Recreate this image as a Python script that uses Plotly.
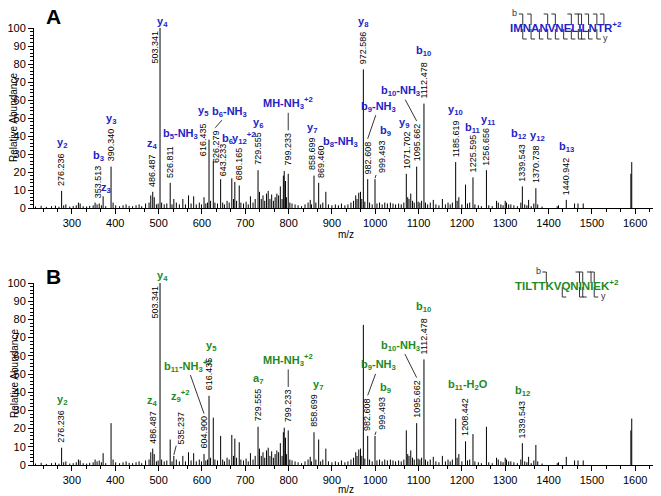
import plotly.graph_objects as go

# ---------------- data ----------------
peak_mz = [
    216, 229, 241, 253, 262, 270, 276.236, 281, 286, 295, 303, 310, 315, 319, 326, 334, 341, 349,
    353.513, 358, 363, 368, 372, 378, 390.340, 395, 401, 410, 418, 425, 432, 440, 448, 455, 461,
    470, 478, 482, 486.487, 490, 495, 499, 503.341, 507, 513, 519, 526.811, 531, 535.237, 541, 548,
    556, 562, 569, 575, 581, 587, 594, 599, 604.900, 609, 613, 616.435, 620, 626.279, 630, 636,
    643.233, 648, 652, 658, 663, 669, 673, 676, 680, 686.165, 690, 696, 702, 707, 712, 718, 723,
    729.555, 733, 737, 741, 745, 749, 753, 757, 761, 765, 769, 773, 777, 781, 785, 788, 790, 793,
    795, 799.233, 803, 808, 815, 822, 830, 838, 845, 850, 853, 858.699, 863, 869.460, 874, 879, 886,
    892, 900, 908, 915, 922, 930, 937, 944, 950, 955, 958, 962, 966, 969, 972.586, 976, 982.608,
    987, 993, 999.493, 1004, 1010, 1016, 1022, 1028, 1035, 1041, 1047, 1054, 1060, 1066, 1071.702,
    1075, 1078, 1082, 1086, 1090, 1095.662, 1099, 1103, 1107, 1112.478, 1116, 1121, 1127, 1134,
    1140, 1147, 1155, 1162, 1168, 1173, 1178, 1185.619, 1189, 1193, 1200, 1208.442, 1213, 1218,
    1225.595, 1230, 1238, 1245, 1256.656, 1262, 1270, 1280, 1284, 1290, 1295, 1300, 1303, 1308,
    1313, 1320, 1328, 1336, 1339.543, 1345, 1350, 1354, 1360, 1366, 1370.738, 1375, 1385, 1420,
    1423, 1440.942, 1460, 1468, 1480, 1590, 1592,
]
peak_int = [
    0.8, 1.2, 0.6, 1.0, 1.3, 0.7, 9.5, 1.5, 2.0, 0.8, 1.0, 1.5, 3.0, 2.5, 1.0, 0.8, 1.2, 1.5,
    3.0, 2.0, 2.5, 1.5, 6.5, 1.0, 23, 3.0, 1.5, 1.0, 1.5, 2.0, 1.2, 1.0, 1.5, 2.0, 1.0,
    2.5, 3.0, 7.0, 9.0, 6.0, 2.0, 2.5, 100, 3.0, 2.0, 2.5, 14, 2.0, 5.0, 3.0, 2.0,
    5.0, 2.0, 7.0, 2.5, 6.5, 2.0, 3.0, 2.0, 6.0, 2.5, 3.0, 38, 4.0, 26, 3.0, 2.5,
    16, 3.0, 2.0, 4.0, 3.0, 16.5, 5.0, 14.5, 4.0, 12.5, 3.0, 2.5, 3.5, 2.0, 6.5, 3.0, 5.0,
    21, 9.0, 5.0, 7.0, 4.0, 8.0, 9.5, 5.0, 7.5, 4.0, 6.0, 8.0, 7.0, 12, 5.0, 18, 20.5, 15,
    6.0, 19, 3.0, 2.5, 2.0, 1.5, 1.0, 2.0, 3.0, 4.5, 2.0, 18, 3.0, 14, 2.0, 3.0, 9.0,
    2.0, 1.5, 2.0, 1.5, 2.5, 1.5, 2.0, 3.0, 4.0, 7.0, 5.0, 8.5, 9.0, 5.0, 77, 3.5, 16,
    3.0, 2.0, 16, 2.5, 3.0, 2.0, 3.0, 2.5, 3.0, 2.5, 2.0, 2.5, 2.0, 3.0, 19,
    6.0, 5.0, 8.0, 4.0, 3.0, 23, 3.5, 3.0, 4.0, 58, 3.0, 2.0, 3.0, 4.5,
    2.0, 1.5, 5.0, 2.0, 3.0, 2.0, 3.0, 25.5, 4.0, 6.0, 2.0, 13, 2.5, 3.0,
    17, 2.0, 1.5, 1.0, 21, 1.5, 1.0, 4.0, 3.0, 2.0, 1.5, 4.0, 3.0, 2.0,
    2.0, 1.5, 1.0, 3.0, 12, 2.0, 1.5, 4.5, 1.0, 2.5, 11, 2.0, 0.8, 1.0,
    1.5, 4.5, 2.5, 2.5, 2.5, 19, 25.5,
]

# annotated peaks, panel A (peptide IMNANVNELILNTR)
a_label_mz = [276.236, 353.513, 390.340, 486.487, 503.341, 526.811, 616.435, 626.279,
              643.233, 686.165, 729.555, 799.233, 858.699, 869.460, 972.586, 982.608,
              999.493, 1071.702, 1095.662, 1112.478, 1185.619, 1225.595, 1256.656,
              1339.543, 1370.738, 1440.942]
a_label_ion = ["y<sub>2</sub>", "b<sub>3</sub>", "y<sub>3</sub>", "z<sub>4</sub>", "y<sub>4</sub>",
               "b<sub>5</sub>-NH<sub>3</sub>", "y<sub>5</sub>", "b<sub>6</sub>-NH<sub>3</sub>",
               "b<sub>6</sub>", "y<sub>12</sub><sup>+2</sup>", "y<sub>6</sub>",
               "MH-NH<sub>3</sub><sup>+2</sup>", "y<sub>7</sub>", "b<sub>8</sub>-NH<sub>3</sub>",
               "y<sub>8</sub>", "b<sub>9</sub>-NH<sub>3</sub>", "b<sub>9</sub>", "y<sub>9</sub>",
               "b<sub>10</sub>-NH<sub>3</sub>", "b<sub>10</sub>", "y<sub>10</sub>", "b<sub>11</sub>",
               "y<sub>11</sub>", "b<sub>12</sub>", "y<sub>12</sub>", "b<sub>13</sub>"]
a_extra_mz = [372]
a_extra_ion = ["z<sub>3</sub>"]

# annotated peaks, panel B (peptide TILTTKVQNINIEK)
b_label_mz = [276.236, 486.487, 503.341, 535.237, 604.900, 616.435, 729.555, 799.233,
              858.699, 982.608, 999.493, 1095.662, 1112.478, 1208.442, 1339.543]
b_label_ion = ["y<sub>2</sub>", "z<sub>4</sub>", "y<sub>4</sub>", "z<sub>9</sub><sup>+2</sup>",
               "b<sub>11</sub>-NH<sub>3</sub><sup>+2</sup>", "y<sub>5</sub>", "a<sub>7</sub>",
               "MH-NH<sub>3</sub><sup>+2</sup>", "y<sub>7</sub>", "b<sub>9</sub>-NH<sub>3</sub>",
               "b<sub>9</sub>", "b<sub>10</sub>-NH<sub>3</sub>", "b<sub>10</sub>",
               "b<sub>11</sub>-H<sub>2</sub>O", "b<sub>12</sub>"]

seq_a = "IMNANVNELILNTR"
seq_b = "TILTTKVQNINIEK"
seq_a_bgaps = [2, 3, 5, 6, 8, 9, 10, 11, 12, 13]
seq_a_ygaps = [2, 3, 4, 5, 6, 7, 8, 9, 10, 11, 12]
seq_b_bgaps = [5, 9, 10, 11, 12]
seq_b_ygaps = [7, 9, 10, 12]

# ---------------- layout / style ----------------
# page body has an 8px margin, so the figure is 8px smaller and positions are shifted by it
OFF = 8
W, H = 661 - OFF, 496 - OFF
FONT = "Liberation Sans, Arial, sans-serif"
BLUE = "#2424c4"
GREEN = "#1e8a1e"
X_RANGE = [212.5, 1652.6]


def px(x):
    return (x - OFF) / W


def py(y):
    return 1 - (y - OFF) / H


XDOM = [px(34), px(658)]
A_DOM = [py(208), py(28)]
B_DOM = [py(465), py(283)]

# per-label placement tweaks in pixels:
# t_dx: m/z text x-offset, t_gap: text bottom above peak top,
# l_dx/l_dy: ion label centre relative to text top, lead: leader to label, tlead: leader text->peak
A_TWEAK = {
    353.513: dict(t_dx=3, t_gap=2),
    503.341: dict(t_dx=-6, t_gap=-38, l_dx=8, l_dy=8),
    526.811: dict(l_dx=10, l_dy=9),
    616.435: dict(t_dx=-6, t_gap=-19, l_dy=11),
    626.279: dict(t_dx=2, t_gap=-4, l_dx=14, l_dy=16, lead=True),
    643.233: dict(t_dx=2, t_gap=1, l_dx=5, l_dy=3),
    686.165: dict(l_dx=4),
    799.233: dict(t_gap=6, l_dy=27, lead=True),
    858.699: dict(t_dx=-2, l_dx=0),
    869.460: dict(t_dx=3, l_dx=19, l_dy=1),
    982.608: dict(l_dx=11, l_dy=32, lead=True),
    999.493: dict(t_dx=7, t_gap=4, l_dx=3, l_dy=8, tlead=True),
    1071.702: dict(l_dx=-2, l_dy=6),
    1095.662: dict(l_dx=-16, l_dy=30, lead=True),
    1225.595: dict(l_dx=0, l_dy=5),
    1256.656: dict(l_dx=2, l_dy=6),
    1339.543: dict(l_dx=-4),
    1370.738: dict(l_dx=2),
}
B_TWEAK = {
    503.341: dict(t_dx=-6, t_gap=-38, l_dx=8, l_dy=9),
    535.237: dict(t_dx=7, t_gap=10, l_dy=13, tlead=True),
    604.900: dict(l_dx=-17, l_dy=48, lead=True),
    616.435: dict(l_dx=2, l_dy=10),
    799.233: dict(t_gap=6, l_dy=27, lead=True),
    858.699: dict(l_dx=4),
    982.608: dict(l_dx=11, l_dy=30, lead=True),
    999.493: dict(t_dx=7, t_gap=4, l_dx=3, l_dy=7, tlead=True),
    1095.662: dict(l_dx=-16, l_dy=32, lead=True),
    1208.442: dict(l_dx=2, l_dy=12),
}

fig = go.Figure()

xs, ys = [], []
for m, h in zip(peak_mz, peak_int):
    xs += [m, m, None]
    ys += [0, h, None]
for xa, ya in (("x", "y"), ("x2", "y2")):
    fig.add_trace(go.Scatter(x=xs, y=ys, mode="lines", xaxis=xa, yaxis=ya,
                             line=dict(color="black", width=1), hoverinfo="skip",
                             showlegend=False))

intensity = dict(zip(peak_mz, peak_int))


def text_len(s):
    return sum(2.5 if c == "." else 5.0 for c in s) + 4


annotations = []
arrow_style = dict(arrowhead=0, arrowwidth=0.8, arrowcolor="black", standoff=0, startstandoff=0)


def add_labels(mzs, ions, tweaks, color, xref, yref):
    for m, ion in zip(mzs, ions):
        tw = dict(t_dx=0, t_gap=3, l_dx=0, l_dy=8, lead=False, tlead=False)
        tw.update(tweaks.get(m, {}))
        h = intensity[m]
        txt = f"{m:.3f}"
        L = text_len(txt)
        tfont = dict(family=FONT, size=9, color="black")
        if tw["tlead"]:
            annotations.append(dict(x=m, y=h, xref=xref, yref=yref, text=txt, textangle=-90,
                                    font=tfont, showarrow=True, yshift=1,
                                    ax=tw["t_dx"], ay=-(tw["t_gap"] + L / 2 - 1), **arrow_style))
        else:
            annotations.append(dict(x=m, y=h, xref=xref, yref=yref, text=txt, textangle=-90,
                                    font=tfont, showarrow=False, xanchor="center",
                                    yanchor="bottom", xshift=tw["t_dx"], yshift=tw["t_gap"]))
        lfont = dict(family=FONT, size=11, color=color)
        top = tw["t_gap"] + L
        if tw["lead"]:
            annotations.append(dict(x=m, y=h, xref=xref, yref=yref, text=f"<b>{ion}</b>",
                                    font=lfont, showarrow=True, xshift=tw["t_dx"], yshift=top + 1,
                                    ax=tw["l_dx"], ay=-tw["l_dy"], **arrow_style))
        else:
            annotations.append(dict(x=m, y=h, xref=xref, yref=yref, text=f"<b>{ion}</b>",
                                    font=lfont, showarrow=False, xanchor="center",
                                    yanchor="middle", xshift=tw["t_dx"] + tw["l_dx"],
                                    yshift=top + tw["l_dy"]))


add_labels(a_label_mz, a_label_ion, A_TWEAK, BLUE, "x", "y")
add_labels(b_label_mz, b_label_ion, B_TWEAK, GREEN, "x2", "y2")
for m, ion in zip(a_extra_mz, a_extra_ion):
    annotations.append(dict(x=m, y=intensity[m], xref="x", yref="y", text=f"<b>{ion}</b>",
                            font=dict(family=FONT, size=11, color=BLUE), showarrow=False,
                            xanchor="center", yanchor="middle", xshift=3, yshift=8))

# panel letters, axis titles
for letter, yy in (("A", 16), ("B", 276)):
    annotations.append(dict(x=px(53), y=py(yy), xref="paper", yref="paper",
                            xanchor="center", yanchor="middle",
                            text=f"<b>{letter}</b>", showarrow=False,
                            font=dict(family=FONT, size=21, color="black")))
for yc, xt in ((118, 234), (374, 489)):
    annotations.append(dict(x=px(14), y=py(yc), xref="paper", yref="paper",
                            xanchor="center", yanchor="middle",
                            text="Relative Abundance", textangle=-90, showarrow=False,
                            font=dict(family=FONT, size=10, color="black")))
    annotations.append(dict(x=px(346), y=py(xt), xref="paper", yref="paper",
                            xanchor="center", yanchor="middle",
                            text="m/z", showarrow=False,
                            font=dict(family=FONT, size=10, color="black")))

# peptide sequences with fragment brackets
WID = {"A": .722, "C": .722, "D": .722, "E": .667, "F": .611, "G": .778, "H": .722, "I": .278,
       "K": .722, "L": .611, "M": .833, "N": .722, "P": .667, "Q": .778, "R": .722, "S": .667,
       "T": .611, "V": .667, "W": .944, "Y": .667}
SEQ_FS = 11.5
shapes = []


def add_sequence(seq, x0, yc, bgaps, ygaps, color):
    annotations.append(dict(x=px(x0 - 2), y=py(yc), xref="paper", yref="paper",
                            xanchor="left", yanchor="middle", showarrow=False,
                            text=f"<b>{seq}<sup>+2</sup></b>",
                            font=dict(family=FONT, size=SEQ_FS, color=color)))
    cum = [x0]
    for ch in seq:
        cum.append(cum[-1] + WID[ch] * SEQ_FS)
    line = dict(color="#333333", width=1)
    t1, t2 = yc - 13, yc - 2
    b1, b2 = yc + 2, yc + 12
    for g in bgaps:
        gx = cum[g]
        shapes.append(dict(type="line", xref="paper", yref="paper", x0=px(gx - 4), x1=px(gx),
                           y0=py(t1), y1=py(t1), line=line))
        shapes.append(dict(type="line", xref="paper", yref="paper", x0=px(gx), x1=px(gx),
                           y0=py(t1), y1=py(t2), line=line))
    for g in ygaps:
        gx = cum[g]
        shapes.append(dict(type="line", xref="paper", yref="paper", x0=px(gx), x1=px(gx),
                           y0=py(b1), y1=py(b2), line=line))
        shapes.append(dict(type="line", xref="paper", yref="paper", x0=px(gx), x1=px(gx + 4),
                           y0=py(b2), y1=py(b2), line=line))
    annotations.append(dict(x=px(cum[min(bgaps)] - 8), y=py(t1 - 1), xref="paper", yref="paper",
                            xanchor="center", yanchor="middle",
                            text="b", showarrow=False,
                            font=dict(family=FONT, size=9, color="#333333")))
    annotations.append(dict(x=px(cum[max(ygaps)] + 9), y=py(b2 - 1), xref="paper", yref="paper",
                            xanchor="center", yanchor="middle",
                            text="y", showarrow=False,
                            font=dict(family=FONT, size=9, color="#333333")))


add_sequence(seq_a, 510, 27, seq_a_bgaps, [len(seq_a) - g for g in seq_a_ygaps], BLUE)
add_sequence(seq_b, 515, 285, seq_b_bgaps, seq_b_ygaps, GREEN)

xaxis_style = dict(range=X_RANGE, domain=XDOM, showline=True, linecolor="black", linewidth=1,
                   ticks="outside", ticklen=5, tickwidth=1, tickcolor="black",
                   tickmode="linear", tick0=0, dtick=100,
                   minor=dict(ticks="outside", ticklen=3, tickwidth=1, tickcolor="black",
                              tick0=0, dtick=100 / 3),
                   showgrid=False, zeroline=False, automargin=False, fixedrange=True,
                   tickfont=dict(family=FONT, size=11, color="black"))
yaxis_style = dict(range=[0, 100], showline=True, linecolor="black", linewidth=1,
                   ticks="outside", ticklen=5, tickwidth=1, tickcolor="black",
                   tickmode="linear", tick0=0, dtick=10,
                   minor=dict(ticks="outside", ticklen=3, tickwidth=1, tickcolor="black",
                              tick0=0, dtick=2),
                   showgrid=False, zeroline=False, automargin=False, fixedrange=True,
                   tickfont=dict(family=FONT, size=11, color="black"))

fig.update_layout(
    width=W, height=H, margin=dict(l=0, r=0, t=0, b=0),
    paper_bgcolor="white", plot_bgcolor="white", template="none",
    xaxis=dict(**xaxis_style, anchor="y"),
    yaxis=dict(**yaxis_style, domain=A_DOM, anchor="x"),
    xaxis2=dict(**xaxis_style, anchor="y2"),
    yaxis2=dict(**yaxis_style, domain=B_DOM, anchor="x2"),
    annotations=annotations, shapes=shapes, showlegend=False,
)

fig.write_html("out.html")
